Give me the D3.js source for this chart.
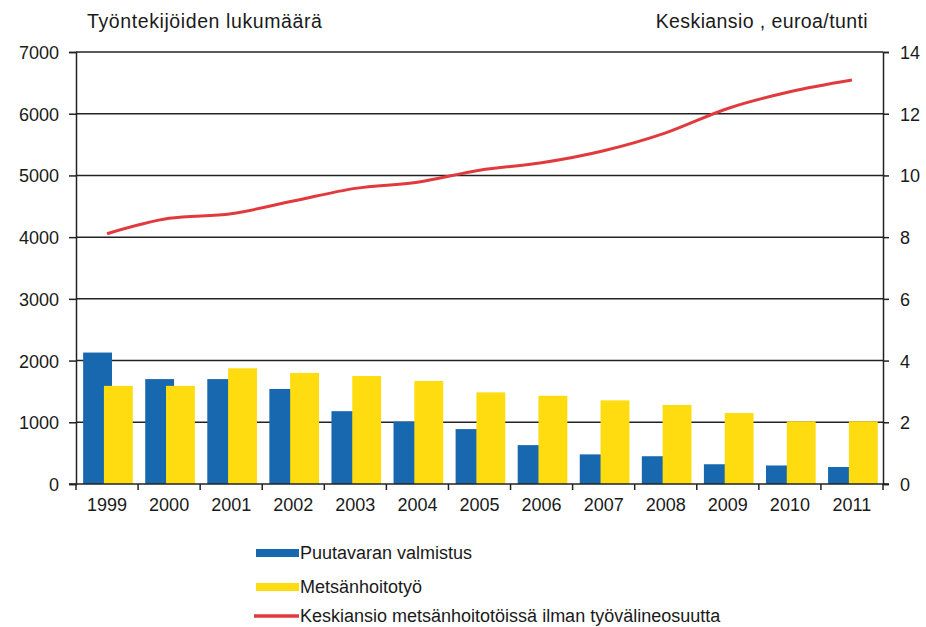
<!DOCTYPE html>
<html>
<head>
<meta charset="utf-8">
<script src="https://cdn.jsdelivr.net/npm/d3@7"></script>
<style>
  body { margin: 0; background: #fff; }
  text { font-family: "Liberation Sans", Arial, sans-serif; fill: #1a1a1a; }
</style>
</head>
<body>
<svg id="chart" width="926" height="627"></svg>
<script>
const years = ["1999","2000","2001","2002","2003","2004","2005","2006","2007","2008","2009","2010","2011"];
const puutavara = [2130, 1700, 1700, 1540, 1180, 1010, 890, 630, 480, 450, 320, 300, 275];
const metsanhoito = [1590, 1590, 1875, 1800, 1750, 1670, 1485, 1430, 1355, 1280, 1150, 1015, 1015];
const keskiansio = [8.11, 8.61, 8.76, 9.17, 9.58, 9.78, 10.17, 10.41, 10.80, 11.38, 12.17, 12.71, 13.09];
const leftTicks = [0, 1000, 2000, 3000, 4000, 5000, 6000, 7000];
const rightTicks = [0, 2, 4, 6, 8, 10, 12, 14];
const seriesNames = ["Puutavaran valmistus", "Metsänhoitotyö", "Keskiansio metsänhoitotöissä ilman työvälineosuutta"];
const leftTitle = "Työntekijöiden lukumäärä";
const rightTitle = "Keskiansio , euroa/tunti";

const colors = { blue: "#1868b0", yellow: "#ffdc0f", red: "#e03a3e" };
const L = 76, R = 883, T = 52, B = 484;

const svg = d3.select("#chart");
const x = d3.scaleBand().domain(years).range([L, R]).padding(0);
const y = d3.scaleLinear().domain([0, 7000]).range([B, T]);
const y2 = d3.scaleLinear().domain([0, 14]).range([B, T]);
const bw = x.bandwidth();

// gridlines
svg.append("g").selectAll("line").data(leftTicks.filter(d => d > 0)).join("line")
  .attr("x1", L).attr("x2", R)
  .attr("y1", d => y(d)).attr("y2", d => y(d))
  .attr("stroke", "#222").attr("stroke-width", 1.5);

// bars
const barW = bw * 0.465;
svg.append("g").selectAll("rect").data(years).join("rect")
  .attr("x", (d) => x(d) + bw / 2 - bw * 0.385)
  .attr("width", barW)
  .attr("y", (d, i) => y(puutavara[i]))
  .attr("height", (d, i) => B - y(puutavara[i]))
  .attr("fill", colors.blue);
svg.append("g").selectAll("rect").data(years).join("rect")
  .attr("x", (d) => x(d) + bw / 2 - bw * 0.05)
  .attr("width", barW)
  .attr("y", (d, i) => y(metsanhoito[i]))
  .attr("height", (d, i) => B - y(metsanhoito[i]))
  .attr("fill", colors.yellow);

// left axis
const gl = svg.append("g").attr("transform", `translate(${L},0)`)
  .call(d3.axisLeft(y).tickValues(leftTicks).tickSize(7).tickPadding(10).tickFormat(d3.format("d")));
gl.select(".domain").attr("stroke", "#222").attr("stroke-width", 1.5);
gl.selectAll(".tick line").attr("stroke", "#222").attr("stroke-width", 1.5);
gl.selectAll("text").attr("font-size", 18).attr("fill", "#1a1a1a")
  .attr("font-family", "Liberation Sans, Arial, sans-serif").attr("dy", "0.36em");

// right axis
const gr = svg.append("g").attr("transform", `translate(${R},0)`)
  .call(d3.axisRight(y2).tickValues(rightTicks).tickSize(6).tickPadding(11));
gr.select(".domain").attr("stroke", "#222").attr("stroke-width", 1.5);
gr.selectAll(".tick line").attr("stroke", "#222").attr("stroke-width", 1.5);
gr.selectAll("text").attr("font-size", 18).attr("fill", "#1a1a1a")
  .attr("font-family", "Liberation Sans, Arial, sans-serif").attr("dy", "0.36em");

// bottom axis
const gb = svg.append("g").attr("transform", `translate(0,${B})`)
  .call(d3.axisBottom(x).tickSize(0).tickPadding(14));
gb.select(".domain").remove();
gb.selectAll("text").attr("font-size", 18).attr("fill", "#1a1a1a")
  .attr("font-family", "Liberation Sans, Arial, sans-serif");
svg.append("line").attr("x1", L - 7).attr("x2", R + 6).attr("y1", B).attr("y2", B)
  .attr("stroke", "#222").attr("stroke-width", 1.5);
svg.append("g").selectAll("line").data(years.map(d => x(d)).concat([R])).join("line")
  .attr("x1", d => d).attr("x2", d => d).attr("y1", B).attr("y2", B + 6)
  .attr("stroke", "#222").attr("stroke-width", 1.5);

// line
const line = d3.line()
  .x((d, i) => x(years[i]) + bw / 2)
  .y(d => y2(d))
  .curve(d3.curveMonotoneX);
svg.append("path").datum(keskiansio)
  .attr("d", line).attr("fill", "none")
  .attr("stroke", colors.red).attr("stroke-width", 3);

// titles
svg.append("text").attr("x", 87).attr("y", 28).attr("font-size", 19.5)
  .attr("letter-spacing", 0.6).text(leftTitle);
svg.append("text").attr("x", 868).attr("y", 28).attr("font-size", 19.5)
  .attr("text-anchor", "end").attr("letter-spacing", 0.4).text(rightTitle);

// legend
const legendY = [553, 587, 616];
const lg = svg.append("g");
lg.append("rect").attr("x", 256).attr("y", legendY[0] - 4).attr("width", 43).attr("height", 8).attr("fill", colors.blue);
lg.append("rect").attr("x", 256).attr("y", legendY[1] - 4).attr("width", 43).attr("height", 8).attr("fill", colors.yellow);
lg.append("line").attr("x1", 254).attr("x2", 299).attr("y1", legendY[2]).attr("y2", legendY[2])
  .attr("stroke", colors.red).attr("stroke-width", 3.5);
seriesNames.forEach((n, i) => {
  lg.append("text").attr("x", 300).attr("y", legendY[i] + 6).attr("font-size", 18).text(n);
});
</script>
</body>
</html>
